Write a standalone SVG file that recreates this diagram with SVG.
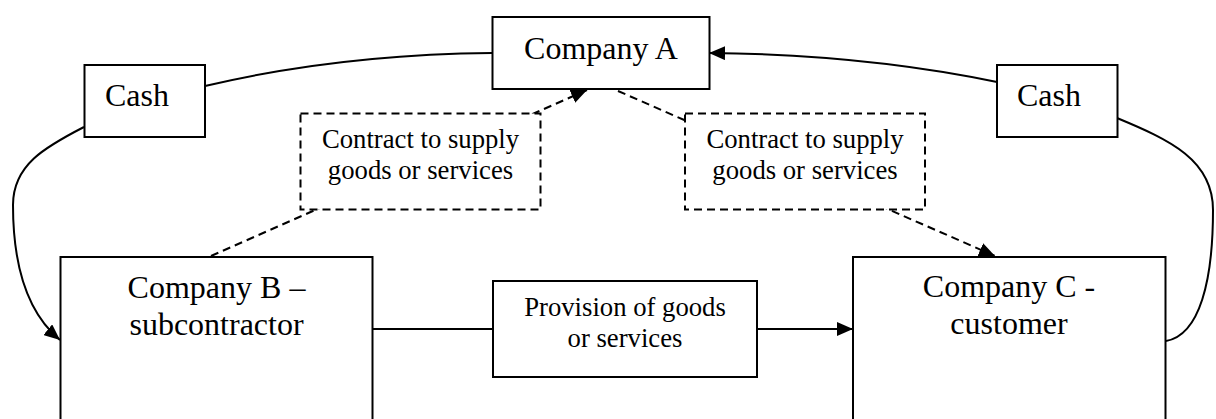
<svg xmlns="http://www.w3.org/2000/svg" width="1216" height="419" viewBox="0 0 1216 419">
<style>
.box{fill:#fff;stroke:#000;stroke-width:2}
.dbox{fill:#fff;stroke:#000;stroke-width:2;stroke-dasharray:8 5}
.ln{fill:none;stroke:#000;stroke-width:2}
.dl{fill:none;stroke:#000;stroke-width:2;stroke-dasharray:8 5}
.t32{font-family:"Liberation Serif","Times New Roman",serif;font-size:32px;fill:#000}
.t27{font-family:"Liberation Serif","Times New Roman",serif;font-size:26.7px;fill:#000}
</style>
<defs>
<marker id="ah" viewBox="0 0 16 14" refX="16" refY="7" markerWidth="16" markerHeight="14" markerUnits="userSpaceOnUse" orient="auto">
<path d="M0,0 L16,7 L0,14 z" fill="#000"/>
</marker>
</defs>
<rect width="1216" height="419" fill="#fff"/>
<g id="connectors">
<path class="ln" d="M205,86 C290,66 380,54 492,53"/>
<path class="ln" d="M997,82 C910,64 820,54 709,53" marker-end="url(#ah)"/>
<path class="ln" d="M84,127 C45,147 13,165 13,205 C13,270 30,315 60,340" marker-end="url(#ah)"/>
<path class="ln" d="M1166,341 C1200,335 1213,280 1213,210 C1213,160 1170,140 1117,118"/>
<path class="dl" d="M211,256 L587,90" marker-end="url(#ah)"/>
<path class="dl" d="M618,91 L995,256" marker-end="url(#ah)"/>
<path class="ln" d="M373,329 L493,329"/>
<path class="ln" d="M757,329 L853,329" marker-end="url(#ah)"/>
</g>
<g id="companyA">
<rect class="box" x="492.5" y="17" width="217" height="72"/>
<text class="t32" x="601" y="59" text-anchor="middle">Company A</text>
</g>
<g id="cashLeft">
<rect class="box" x="84.5" y="65" width="120.5" height="72"/>
<text class="t32" x="105" y="106">Cash</text>
</g>
<g id="cashRight">
<rect class="box" x="997" y="65" width="120.5" height="72"/>
<text class="t32" x="1017" y="106">Cash</text>
</g>
<g id="contractLeft">
<rect class="dbox" x="300.5" y="113.5" width="240" height="96"/>
<text class="t27" x="420.5" y="148" text-anchor="middle">Contract to supply</text>
<text class="t27" x="420.5" y="179" text-anchor="middle">goods or services</text>
</g>
<g id="contractRight">
<rect class="dbox" x="685" y="113.5" width="240" height="96"/>
<text class="t27" x="805" y="148" text-anchor="middle">Contract to supply</text>
<text class="t27" x="805" y="179" text-anchor="middle">goods or services</text>
</g>
<g id="companyB">
<rect class="box" x="60.5" y="257" width="312" height="170"/>
<text class="t32" x="216.5" y="298" text-anchor="middle">Company B –</text>
<text class="t32" x="216.5" y="335" text-anchor="middle">subcontractor</text>
</g>
<g id="provision">
<rect class="box" x="493" y="281" width="264" height="96"/>
<text class="t27" x="625" y="316" text-anchor="middle">Provision of goods</text>
<text class="t27" x="625" y="347" text-anchor="middle">or services</text>
</g>
<g id="companyC">
<rect class="box" x="853" y="257" width="312.5" height="170"/>
<text class="t32" x="1009" y="297" text-anchor="middle">Company C -</text>
<text class="t32" x="1009" y="334" text-anchor="middle">customer</text>
</g>
</svg>
